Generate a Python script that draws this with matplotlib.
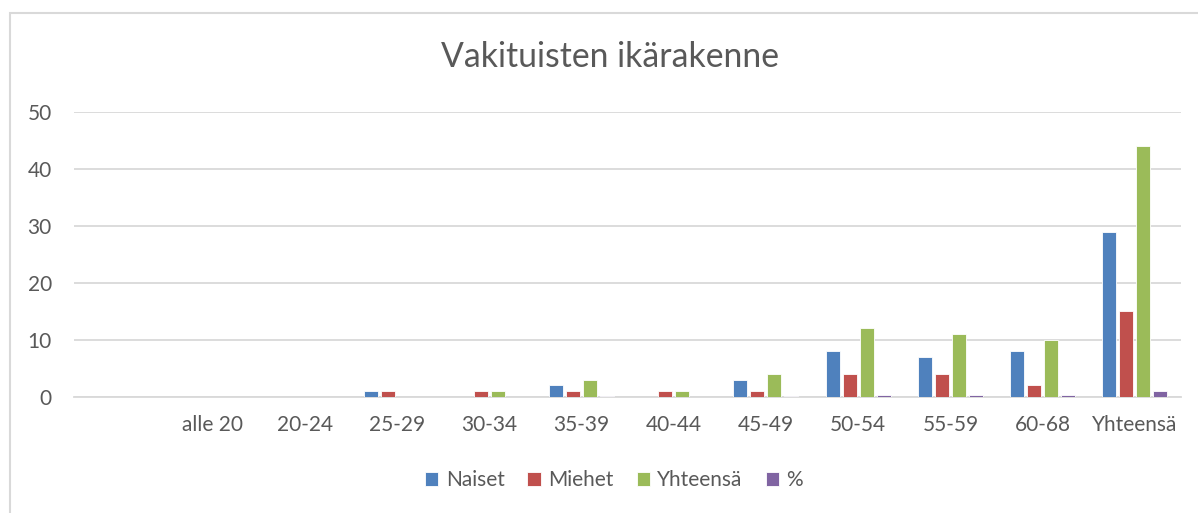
import matplotlib
matplotlib.use("Agg")
import matplotlib.pyplot as plt
import numpy as np
from matplotlib.patches import Rectangle

categories = ["", "alle 20", "20-24", "25-29", "30-34", "35-39", "40-44",
              "45-49", "50-54", "55-59", "60-68", "Yhteensä"]
naiset = [0, 0, 0, 1, 0, 2, 0, 3, 8, 7, 8, 29]
miehet = [0, 0, 0, 1, 1, 1, 1, 1, 4, 4, 2, 15]
yhteensa = [0, 0, 0, 0, 1, 3, 1, 4, 12, 11, 10, 44]
prosentti = [0, 0, 0, 0.02, 0.02, 0.07, 0.02, 0.09, 0.27, 0.25, 0.23, 1.0]

series_names = ["Naiset", "Miehet", "Yhteensä", "%"]
series = [naiset, miehet, yhteensa, prosentti]
colors = ["#4F81BD", "#C0504D", "#9BBB59", "#8064A2"]

plt.rcParams['font.family'] = ['Lato', 'DejaVu Sans']
txt = "#595959"
grid = "#D9D9D9"

fig = plt.figure(figsize=(11.98, 5.13), dpi=100)
W, H = 1198, 513
# chart border
fig.patches.append(Rectangle((10 / W, -0.1), 1.2, 1 - 13 / H + 0.1,
                             transform=fig.transFigure, fill=False,
                             edgecolor=grid, linewidth=1.5))

ax = fig.add_axes([74 / W, (H - 396.7) / H, (1181 - 74) / W, (396.7 - 112.3) / H])
x = np.arange(len(categories))
step = 0.184
width = 0.152
for i, (name, vals, c) in enumerate(zip(series_names, series, colors)):
    ax.bar(x + (i - 1.5) * step, vals, width, color=c, label=name,
           edgecolor="white", linewidth=0.6, zorder=3)

ax.set_xlim(-0.5, len(categories) - 0.5)
ax.set_ylim(0, 50)
ax.set_yticks([0, 10, 20, 30, 40, 50])
ax.set_xticks(x)
ax.set_xticklabels(categories)
ax.yaxis.grid(True, color=grid, linewidth=1.3, zorder=0)
for s in ["top", "right", "left"]:
    ax.spines[s].set_visible(False)
ax.spines["bottom"].set_color(grid)
ax.spines["bottom"].set_linewidth(1.3)
ax.tick_params(axis="both", length=0, colors=txt, labelsize=15)
ax.tick_params(axis="y", pad=16)
ax.tick_params(axis="x", pad=13)

fig.text(610 / W, 1 - 57 / H, "Vakituisten ikärakenne", ha="center", va="center",
         fontsize=24.3, color=txt)

leg = fig.legend(loc="center", bbox_to_anchor=(614 / W, 1 - 480 / H), ncol=4,
                 frameon=False, fontsize=15, handlelength=0.65, handleheight=0.65,
                 handletextpad=0.35, columnspacing=1.1)
for t in leg.get_texts():
    t.set_color(txt)

fig.savefig("out.png", dpi=100)
